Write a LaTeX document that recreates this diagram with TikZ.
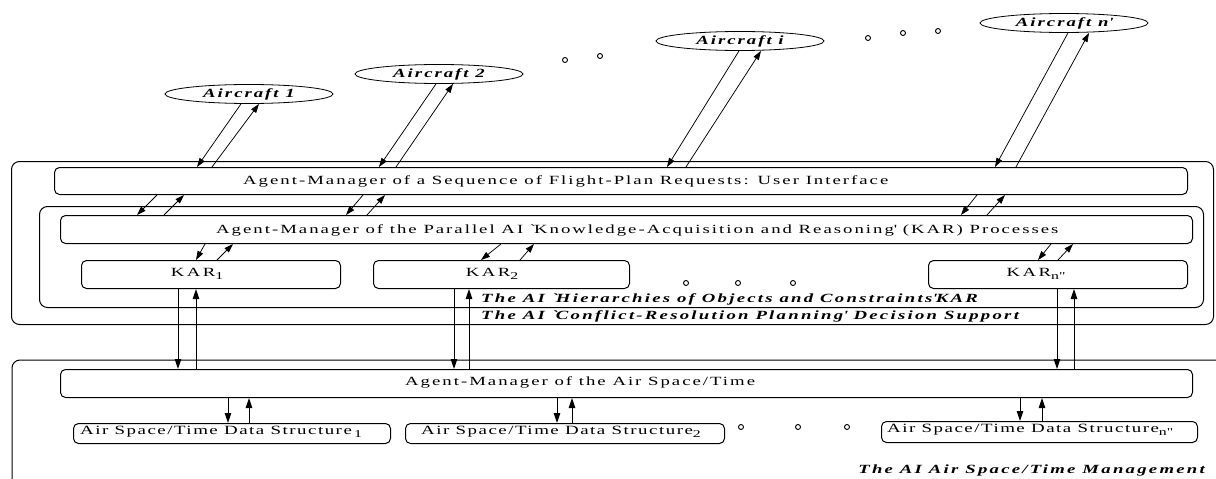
\documentclass[tikz,border=0pt]{standalone}
\usepackage{fontspec}
\setmainfont{Liberation Serif}[FakeStretch=1.5, LetterSpace=16]
\usetikzlibrary{arrows.meta,shapes.geometric}
% lowered index used after KAR and the data-structure names
\newcommand\lsub[1]{\raisebox{-3.5pt}{\fontsize{10.5}{12}\selectfont #1}}

\begin{document}
\begin{tikzpicture}[x=1pt, y=-1pt,
  frame/.style={draw, line width=1pt, rounded corners=8pt, inner sep=0pt, anchor=north west},
  panel/.style={draw, line width=1pt, rounded corners=5pt, inner sep=0pt, anchor=north west},
  craft/.style={draw, ellipse, line width=0.8pt, inner sep=0pt, minimum width=168pt, minimum height=19pt,
    font=\fontsize{12.5}{14}\selectfont\bfseries\itshape},
  boxtext/.style={inner sep=0pt, font=\fontsize{12.5}{14}\selectfont},
  dstext/.style={inner sep=0pt, font=\fontsize{12.6}{15}\selectfont\addfontfeatures{LetterSpace=12}},
  kartext/.style={inner sep=0pt, font=\fontsize{12.5}{14}\selectfont\addfontfeatures{LetterSpace=20}},
  tag/.style={inner sep=0pt, font=\fontsize{12.5}{14}\selectfont\bfseries\itshape\addfontfeatures{LetterSpace=18}},
  link/.style={line width=0.75pt, -{Triangle[length=9pt, width=6pt]}},
  vlink/.style={line width=1pt, -{Triangle[length=10pt, width=6.5pt]}},
  dot/.style={draw, circle, line width=0.9pt, inner sep=0pt, minimum size=5pt}]
\useasboundingbox (0,0) rectangle (1216,479);
\clip (0,0) rectangle (1216,479);

% aircraft
\node[craft] (ac1) at (249,94) {Aircraft 1};
\node[craft] (ac2) at (439,74) {Aircraft 2};
\node[craft] (aci) at (740,41) {Aircraft i};
\node[craft] (acn) at (1064,23) {Aircraft n\textquotesingle};

\node[dot] (d1) at (565,60) {};
\node[dot] (d2) at (600,56) {};
\node[dot] (d3) at (868,38) {};
\node[dot] (d4) at (903,33) {};
\node[dot] (d5) at (938,31) {};

% decision support block
\node[frame, minimum width=1202pt, minimum height=163pt] (dsup) at (11,161) {};
\node[panel, minimum width=1133pt, minimum height=27pt] (ui) at (54,167) {};
\node[boxtext, anchor=west] (uit) at (243,181) {Agent-Manager of a Sequence of Flight-Plan Requests: User Interface};
\node[frame, minimum width=1164pt, minimum height=101pt] (hier) at (39,206) {};
\node[panel, minimum width=1132pt, minimum height=28pt] (karm) at (60,215) {};
\node[boxtext, anchor=west] (karmt) at (216,230) {Agent-Manager of the Parallel AI \textasciigrave Knowledge-Acquisition and Reasoning\textquotesingle{} (KAR) Processes};
\node[panel, minimum width=259pt, minimum height=28pt] (kar1) at (81,260) {};
\node[panel, minimum width=256pt, minimum height=28pt] (kar2) at (373,260) {};
\node[panel, minimum width=259pt, minimum height=28pt] (karn) at (928,260) {};
\node[kartext] (kar1t) at (197,274) {KAR\lsub{1}};
\node[kartext] (kar2t) at (492,274) {KAR\lsub{2}};
\node[kartext] (karnt) at (1035,274) {KAR\lsub{n\textquotedbl}};
\node[dot] (d6) at (686,283) {};
\node[dot] (d7) at (738,283) {};
\node[dot] (d8) at (793,283) {};
\node[tag, anchor=west] (hiert) at (481,299) {The AI \textasciigrave Hierarchies of Objects and Constraints\textquotesingle KAR};
\node[tag, anchor=west] (dsupt) at (481,316) {The AI \textasciigrave Conflict-Resolution Planning\textquotesingle{} Decision Support};

% air space/time block
\draw[line width=1pt, rounded corners=8pt] (12,490) -- (12,360) -- (1230,360);
\coordinate (airframe) at (12,360);
\node[panel, minimum width=1132pt, minimum height=28pt] (airm) at (60,369) {};
\node[boxtext, anchor=west] (airmt) at (405,382) {Agent-Manager of the Air Space/Time};
\node[panel, minimum width=317pt, minimum height=20pt] (ds1) at (73,423) {};
\node[panel, minimum width=319pt, minimum height=20pt] (ds2) at (405,423) {};
\node[panel, minimum width=316pt, minimum height=21pt] (dsn) at (881,421) {};
\node[dstext, anchor=west] (ds1t) at (80,432) {Air Space/Time Data Structure\,\lsub{1}};
\node[dstext, anchor=west] (ds2t) at (421,432) {Air Space/Time Data Structure\lsub{2}};
\node[dstext, anchor=west] (dsnt) at (887,430) {Air Space/Time Data Structure\lsub{n\textquotedbl}};
\node[dot] (d9) at (741,427) {};
\node[dot] (d10) at (798,427) {};
\node[dot] (d11) at (847,427) {};
\node[tag, anchor=east] (airt) at (1205,470) {The AI Air Space/Time Management};

% aircraft <-> user interface
\draw[link] (ac1.south -| 241,0) -- (ui.north -| 197,0);
\draw[link] (ui.north -| 212,0) -- (ac1.south -| 259,0);
\draw[link] (ac2.south -| 436,0) -- (ui.north -| 379,0);
\draw[link] (ui.north -| 396,0) -- (ac2.south -| 453,0);
\draw[link] (aci.south -| 739,0) -- (ui.north -| 667,0);
\draw[link] (ui.north -| 686,0) -- (aci.south -| 761,0);
\draw[link] (acn.south -| 1068,0) -- (ui.north -| 995,0);
\draw[link] (ui.north -| 1016,0) -- (acn.south -| 1089,0);

% user interface <-> KAR manager
\draw[link] (ui.south -| 157,0) -- (karm.north -| 137,0);
\draw[link] (karm.north -| 164,0) -- (ui.south -| 184,0);
\draw[link] (ui.south -| 363,0) -- (karm.north -| 346,0);
\draw[link] (karm.north -| 367,0) -- (ui.south -| 385,0);
\draw[link] (ui.south -| 977,0) -- (karm.north -| 961,0);
\draw[link] (karm.north -| 987,0) -- (ui.south -| 1005,0);

% KAR manager <-> KAR processes
\draw[link] (karm.south -| 205,0) -- (kar1.north -| 196,0);
\draw[link] (kar1.north -| 217,0) -- (karm.south -| 233,0);
\draw[link] (karm.south -| 501,0) -- (kar2.north -| 481,0);
\draw[link] (kar2.north -| 520,0) -- (karm.south -| 534,0);
\draw[link] (karm.south -| 1051,0) -- (karn.north -| 1038,0);
\draw[link] (karn.north -| 1058,0) -- (karm.south -| 1073,0);

% KAR processes <-> air space/time manager
\draw[vlink] (kar1.south -| 178,0) -- (airm.north -| 178,0);
\draw[vlink] (airm.north -| 196,0) -- (kar1.south -| 196,0);
\draw[vlink] (kar2.south -| 454,0) -- (airm.north -| 454,0);
\draw[vlink] (airm.north -| 469,0) -- (kar2.south -| 469,0);
\draw[vlink] (karn.south -| 1057,0) -- (airm.north -| 1057,0);
\draw[vlink] (airm.north -| 1074,0) -- (karn.south -| 1074,0);

% air space/time manager <-> data structures
\draw[vlink] (airm.south -| 228,0) -- (ds1.north -| 228,0);
\draw[vlink] (ds1.north -| 249,0) -- (airm.south -| 249,0);
\draw[vlink] (airm.south -| 557,0) -- (ds2.north -| 557,0);
\draw[vlink] (ds2.north -| 572,0) -- (airm.south -| 572,0);
\draw[vlink] (airm.south -| 1020,0) -- (dsn.north -| 1020,0);
\draw[vlink] (dsn.north -| 1042,0) -- (airm.south -| 1042,0);
\end{tikzpicture}
\end{document}
